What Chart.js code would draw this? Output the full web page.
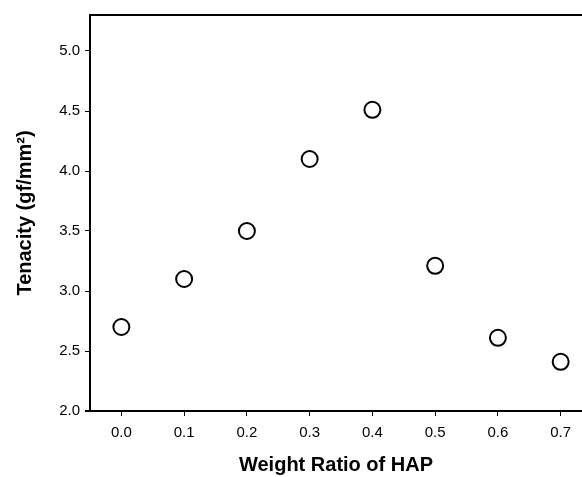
<!DOCTYPE html>
<html>
<head>
<meta charset="utf-8">
<script src="https://cdn.jsdelivr.net/npm/chart.js@4/dist/chart.umd.min.js"></script>
<style>
  html, body { margin: 0; padding: 0; background: #fff; }
  #wrap { width: 582px; height: 477px; }
</style>
</head>
<body>
<div id="wrap"><canvas id="tenacityChart"></canvas></div>
<script>
// Weight ratio of HAP vs tenacity
const hapRatio = [0.0, 0.1, 0.2, 0.3, 0.4, 0.5, 0.6, 0.7];
const tenacity = [2.7, 3.1, 3.5, 4.1, 4.51, 3.21, 2.61, 2.41];
const xTicks = [0.0, 0.1, 0.2, 0.3, 0.4, 0.5, 0.6, 0.7];
const yTicks = [2.0, 2.5, 3.0, 3.5, 4.0, 4.5, 5.0];

const points = hapRatio.map((x, i) => ({ x, y: tenacity[i] }));

// top frame line (plot is cropped on the right, so no right border)
const topFrame = {
  id: "topFrame",
  afterDraw(chart) {
    const { ctx, chartArea } = chart;
    ctx.save();
    ctx.strokeStyle = "#000";
    ctx.lineWidth = 2;
    ctx.beginPath();
    ctx.moveTo(chartArea.left - 1, chartArea.top);
    ctx.lineTo(chart.width, chartArea.top);
    // x axis line runs a little past the y axis, like the original
    ctx.moveTo(chartArea.left - 5, chartArea.bottom);
    ctx.lineTo(chartArea.left, chartArea.bottom);
    ctx.stroke();
    ctx.restore();
  }
};

const tickGrid = { display: true, drawOnChartArea: false, drawTicks: true, tickLength: 5, tickColor: "#000", tickWidth: 1 };

const ctx = document.getElementById("tenacityChart").getContext("2d");
new Chart(ctx, {
  type: "scatter",
  data: {
    datasets: [{
      data: points,
      pointRadius: 8,
      pointBorderWidth: 2,
      pointBorderColor: "#000",
      pointBackgroundColor: "rgba(255,255,255,0)",
      showLine: false
    }]
  },
  options: {
    responsive: true,
    maintainAspectRatio: false,
    animation: false,
    layout: { autoPadding: false, padding: { top: 15, right: 0, left: 0, bottom: 0 } },
    plugins: {
      legend: { display: false },
      tooltip: { enabled: false }
    },
    scales: {
      x: {
        type: "linear",
        min: -0.05,
        max: 0.734,
        afterBuildTicks: axis => { axis.ticks = xTicks.map(v => ({ value: v })); },
        afterFit: axis => {
          axis.height = 66;
          axis.paddingLeft = 0;
          axis.paddingRight = 0;
        },
        grid: tickGrid,
        border: { display: true, color: "#000", width: 2 },
        ticks: {
          color: "#000",
          padding: 8,
          font: { family: "Liberation Sans, Arial", size: 15 },
          callback: v => v.toFixed(1)
        },
        title: {
          display: true,
          text: "Weight Ratio of HAP",
          color: "#000",
          font: { family: "Liberation Sans, Arial", size: 20, weight: "bold" },
          padding: { top: 8, bottom: 0 }
        }
      },
      y: {
        type: "linear",
        min: 2.0,
        max: 5.3,
        afterBuildTicks: axis => { axis.ticks = yTicks.map(v => ({ value: v })); },
        afterFit: axis => { axis.width = 90; },
        grid: tickGrid,
        border: { display: true, color: "#000", width: 2 },
        ticks: {
          color: "#000",
          padding: 5,
          font: { family: "Liberation Sans, Arial", size: 15 },
          callback: v => v.toFixed(1)
        },
        title: {
          display: true,
          text: "Tenacity (gf/mm²)",
          color: "#000",
          font: { family: "Liberation Sans, Arial", size: 20, weight: "bold" },
          padding: { top: 13, bottom: 0 }
        }
      }
    }
  },
  plugins: [topFrame]
});
</script>
</body>
</html>
